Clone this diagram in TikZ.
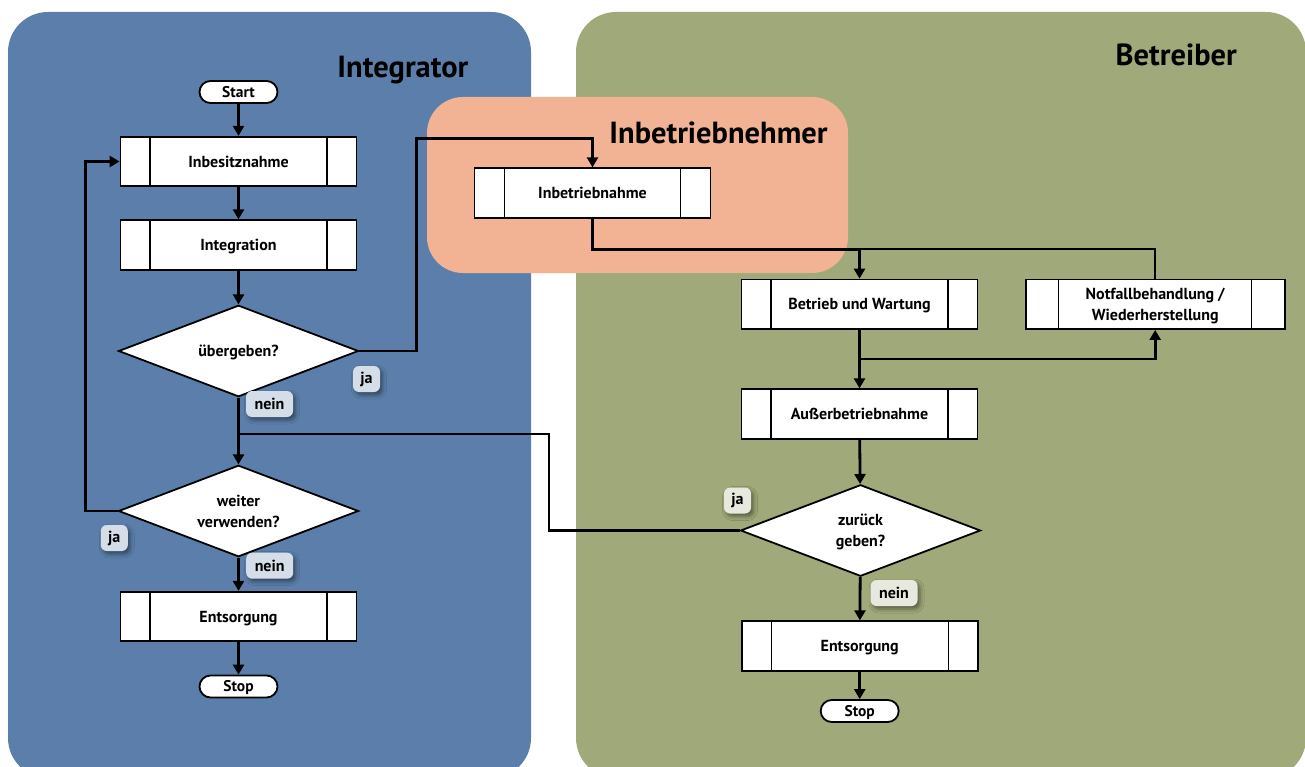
\documentclass[tikz,border=0pt]{standalone}
\usepackage{fontspec}
\setmainfont{PT Sans}
\usetikzlibrary{arrows.meta,shapes.geometric,shadows.blur}

\definecolor{intblue}{RGB}{91,127,170}
\definecolor{opgreen}{RGB}{160,169,121}
\definecolor{comorange}{RGB}{242,179,149}
\definecolor{tagblue}{RGB}{213,222,232}
\definecolor{taggreen}{RGB}{232,233,222}

\tikzset{
  panel/.style={rounded corners=40pt, draw=none},
  paneltitle/.style={font=\fontsize{30.5}{33}\selectfont\bfseries, anchor=base east, inner sep=0pt},
  % keep capitals centred whether or not a line has descenders
  oneline/.style={text height=13pt, text depth=1.8pt},
  twolines/.style={text height=34pt, text depth=1.8pt},
  procbox/.style={draw, line width=1.8pt, fill=white, minimum width=236pt, minimum height=49.5pt,
    inner sep=0pt, align=center, font=\fontsize{16}{21}\selectfont\bfseries, oneline,
    path picture={
      \draw[line width=1.2pt]
        ([xshift=#1]path picture bounding box.north west) -- ([xshift=#1]path picture bounding box.south west)
        ([xshift=-#1]path picture bounding box.north east) -- ([xshift=-#1]path picture bounding box.south east);
    }},
  procbox/.default=29.5pt,
  terminal/.style={draw, line width=1.8pt, fill=white, rounded corners=11pt, minimum width=78pt,
    minimum height=22pt, inner sep=0pt, font=\fontsize{15.5}{17}\selectfont\bfseries,
    text height=12.5pt, text depth=1.6pt},
  decision/.style={draw, line width=1.8pt, fill=white, shape=diamond, aspect=2.62, minimum width=240pt,
    minimum height=91.5pt, inner sep=0pt, align=center, font=\fontsize{16}{21}\selectfont\bfseries, oneline},
  tag/.style={rounded corners=6pt, minimum height=26pt, inner sep=0pt, minimum width=27pt,
    font=\fontsize{16}{18}\selectfont\bfseries,
    blur shadow={shadow xshift=2.5pt, shadow yshift=-3pt, shadow blur radius=4pt, shadow opacity=45}},
  flow/.style={line width=2.8pt, -{Triangle[length=10pt,width=11pt]}},
  joinline/.style={line width=2.2pt},
}

\begin{document}
\begin{tikzpicture}[x=1pt, y=-1pt]
\useasboundingbox (0,0) rectangle (1305,767);

% swimlanes
\fill[panel, intblue] (8,12) rectangle (531,778);
\fill[panel, opgreen] (576,12) rectangle (1306,778);
\fill[panel, rounded corners=36pt, comorange] (427,97) rectangle (848,273);

\node[paneltitle] (tInt) at (468.6,77.3) {Integrator};
\node[paneltitle] (tBet) at (1237,65.7) {Betreiber};
\node[paneltitle] (tInb) at (827.7,143.3) {Inbetriebnehmer};

% integrator column
\node[terminal] (start) at (238.5,92) {Start};
\node[procbox] (inbes) at (238.5,161.5) {Inbesitznahme};
\node[procbox] (integ) at (238.5,245) {Integration};
\node[decision] (ueberg) at (238.5,351) {übergeben?};
\node[decision, twolines] (weiter) at (238.5,511) {weiter\\verwenden?};
\node[procbox] (ents1) at (238.5,616.5) {Entsorgung};
\node[terminal] (stop1) at (238.5,686.5) {Stop};

% commissioning
\node[procbox={30pt}] (inbetr) at (592.5,193) {Inbetriebnahme};

% operator column
\node[procbox] (betrieb) at (859.5,304.3) {Betrieb und Wartung};
\node[procbox={33pt}, twolines, minimum width=259pt] (notfall) at (1155.2,304.3) {Notfallbehandlung /\\Wiederherstellung};
\node[procbox] (ausser) at (859.5,414) {Außerbetriebnahme};
\node[decision, twolines] (zurueck) at (860.5,530.5) {zurück\\geben?};
\node[procbox] (ents2) at (859.7,646) {Entsorgung};
\node[terminal] (stop2) at (859.7,711) {Stop};

% bend points
\coordinate (c1) at (416.7,138.3);
\coordinate (j1) at (592.5,249.3);
\coordinate (j2) at (859.5,249.3);
\coordinate (j3) at (859.5,359);
\coordinate (j4) at (238.5,434);
\coordinate (c4) at (549,434);
\coordinate (c5) at (85.7,161.5);

% connectors
\draw[flow] (start) -- (inbes);
\draw[flow] (inbes) -- (integ);
\draw[flow] (integ) -- (ueberg);
\draw[flow] (ueberg.east) -| (c1) -| (inbetr.north);
\draw[flow] (inbetr.south) -- (j1) -| (betrieb.north);
\draw[joinline] (notfall.north) |- (j2);
\draw[flow] (betrieb) -- (ausser);
\draw[flow] (j3) -| (notfall.south);
\draw[flow] (ausser) -- (zurueck);
\draw[flow] (zurueck) -- (ents2);
\draw[flow] (ents2) -- (stop2);
\draw[flow] (ueberg) -- (weiter);
\draw[joinline] (zurueck.west) -| (c4) -- (j4);
\draw[flow] (weiter.west) -| (c5) -- (inbes.west);
\draw[flow] (weiter) -- (ents1);
\draw[flow] (ents1) -- (stop1);

% branch labels
\node[tag, fill=tagblue] (ja1) at (366.5,379) {ja};
\node[tag, fill=tagblue, minimum width=47pt] (nein1) at (269.5,404) {nein};
\node[tag, fill=tagblue] (ja2) at (114.3,538) {ja};
\node[tag, fill=tagblue, minimum width=47pt] (nein2) at (269.7,565.7) {nein};
\node[tag, fill=taggreen] (ja3) at (737.5,500.5) {ja};
\node[tag, fill=taggreen, minimum width=47pt] (nein3) at (894,593) {nein};
\end{tikzpicture}
\end{document}
